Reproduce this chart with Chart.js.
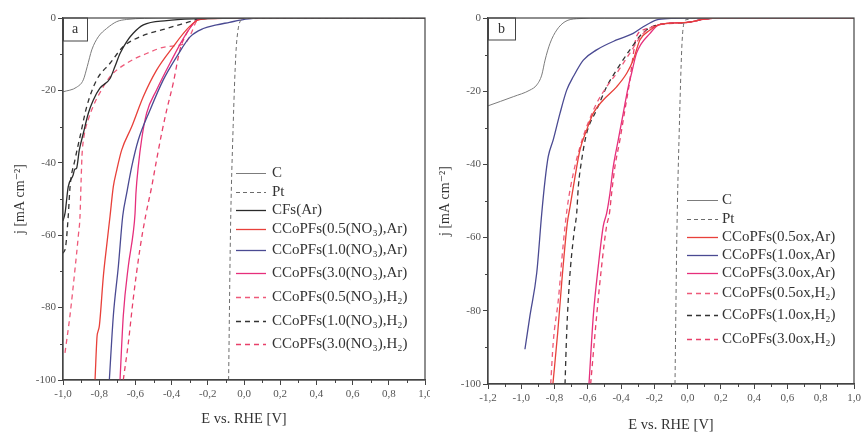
<!DOCTYPE html>
<html>
<head>
<meta charset="utf-8">
<script src="https://cdn.jsdelivr.net/npm/chart.js@4.4.0/dist/chart.umd.min.js"></script>
<style>
    body { margin: 0; background: #fff; }
    #wrapA { position: absolute; left: 0; top: 0; }
    #wrapB { position: absolute; left: 430px; top: 0; }
</style>
</head>
<body>
<div id="wrapA"><canvas id="chartA" width="430" height="432"></canvas></div>
<div id="wrapB"><canvas id="chartB" width="431" height="432"></canvas></div>
<script>
// Panel a curves, [E (V vs RHE), j (mA cm-2)]
const a_C = [[-1.0,-20.4],[-0.924,-19.1],[-0.888,-17.1],[-0.866,-13.4],[-0.841,-8.8],[-0.805,-5.2],[-0.759,-2.9],[-0.703,-1.0],[-0.648,-0.4],[-0.55,-0.1],[-0.4,0],[1.0,0]];
const a_Pt = [[-0.085,-100],[-0.075,-60],[-0.06,-30],[-0.045,-10],[-0.035,-4],[-0.02,-0.8],[0,-0.2],[0.1,0],[1.0,0]];
const a_CFs = [[-1.0,-56],[-0.989,-54],[-0.971,-46.6],[-0.945,-43.5],[-0.935,-41.8],[-0.925,-41.5],[-0.91,-36.5],[-0.888,-31.9],[-0.86,-26.3],[-0.833,-22.7],[-0.796,-19.4],[-0.74,-16.7],[-0.713,-13.4],[-0.685,-9.8],[-0.648,-6.5],[-0.612,-4.2],[-0.556,-1.9],[-0.427,-0.7],[-0.26,-0.2],[0,0],[1.0,0]];
const a_05Ar = [[-0.823,-100],[-0.812,-88],[-0.806,-86.5],[-0.799,-85],[-0.777,-71.3],[-0.759,-63],[-0.74,-54.7],[-0.722,-46.6],[-0.703,-42],[-0.676,-36.5],[-0.62,-30],[-0.556,-21.7],[-0.483,-14.4],[-0.391,-7.9],[-0.317,-3.2],[-0.26,-0.7],[-0.2,-0.2],[0,0],[1.0,0]];
const a_10Ar = [[-0.744,-100],[-0.722,-82.3],[-0.694,-68.5],[-0.67,-54.7],[-0.648,-48.4],[-0.62,-41],[-0.584,-33.7],[-0.519,-25.4],[-0.446,-17.1],[-0.372,-10.7],[-0.298,-5.2],[-0.225,-2.9],[-0.151,-1.9],[-0.08,-1.2],[-0.022,-0.6],[0.05,-0.1],[0.2,0],[1.0,0]];
const a_30Ar = [[-0.685,-100],[-0.667,-82.3],[-0.639,-68.5],[-0.612,-59.3],[-0.602,-54],[-0.597,-48.4],[-0.584,-41],[-0.566,-33.7],[-0.538,-26.3],[-0.483,-19.9],[-0.409,-12.5],[-0.317,-4.2],[-0.26,-0.6],[-0.2,-0.1],[0,0],[1.0,0]];
const a_05H2 = [[-0.989,-92.5],[-0.961,-82],[-0.935,-70],[-0.915,-60],[-0.906,-54.7],[-0.9,-45],[-0.895,-38],[-0.885,-33],[-0.86,-28],[-0.83,-24],[-0.8,-21],[-0.74,-16.2],[-0.648,-12.5],[-0.538,-9.8],[-0.427,-7.9],[-0.326,-7],[-0.29,-4],[-0.26,-0.8],[-0.2,-0.1],[0,0],[1.0,0]];
const a_10H2 = [[-1.0,-65],[-0.985,-63],[-0.971,-54.7],[-0.961,-46.6],[-0.934,-39.2],[-0.906,-32.8],[-0.869,-24.5],[-0.814,-17.1],[-0.74,-12.5],[-0.667,-7.9],[-0.575,-5.2],[-0.427,-2.9],[-0.3,-1],[-0.26,-0.4],[-0.2,-0.1],[0,0],[1.0,0]];
const a_30H2 = [[-0.667,-100],[-0.639,-89.7],[-0.612,-77.6],[-0.575,-63.8],[-0.543,-54.5],[-0.51,-46.6],[-0.483,-39.2],[-0.455,-31.9],[-0.427,-25.4],[-0.391,-18],[-0.354,-8.8],[-0.317,-4.2],[-0.28,-1.5],[-0.25,-0.3],[-0.2,-0.1],[0,0],[1.0,0]];

// Panel b curves
const b_C = [[-1.2,-24],[-1.048,-21.5],[-0.948,-19.7],[-0.907,-18.3],[-0.877,-15.6],[-0.857,-11.5],[-0.827,-6.9],[-0.787,-3.3],[-0.737,-1.0],[-0.667,-0.2],[-0.5,0],[1.0,0]];
const b_Pt = [[-0.076,-100],[-0.065,-60],[-0.05,-30],[-0.035,-8],[-0.025,-2],[-0.01,-0.5],[0.1,0],[1.0,0]];
const b_05Ar = [[-0.81,-100],[-0.781,-86],[-0.757,-72.3],[-0.723,-55.9],[-0.707,-51.6],[-0.677,-43.4],[-0.647,-36],[-0.607,-30.6],[-0.567,-26],[-0.507,-22.4],[-0.427,-18.8],[-0.366,-15.1],[-0.327,-11.5],[-0.287,-6],[-0.226,-3.3],[-0.17,-1.8],[0,-1.2],[0.1,-0.3],[0.2,0],[1.0,0]];
const b_10Ar = [[-0.978,-90.5],[-0.948,-81.4],[-0.907,-69.6],[-0.877,-53.4],[-0.857,-44.3],[-0.838,-37.9],[-0.808,-33.3],[-0.767,-26],[-0.727,-19.7],[-0.687,-16],[-0.627,-11.5],[-0.547,-8.7],[-0.427,-6],[-0.327,-4.2],[-0.267,-2.4],[-0.186,-0.5],[-0.1,-0.1],[0,0],[1.0,0]];
const b_30Ar = [[-0.593,-100],[-0.567,-81.4],[-0.537,-67.8],[-0.507,-56.8],[-0.487,-53.4],[-0.467,-47.9],[-0.447,-40.6],[-0.417,-33.3],[-0.387,-26],[-0.357,-18.8],[-0.337,-15.1],[-0.307,-9.6],[-0.226,-4.2],[-0.17,-1.8],[0,-1.2],[0.1,-0.3],[0.2,0],[1.0,0]];
const b_05H2 = [[-0.823,-100],[-0.808,-88.7],[-0.777,-76.9],[-0.747,-61.4],[-0.723,-51.6],[-0.687,-42.4],[-0.647,-35.2],[-0.607,-29.7],[-0.547,-23.3],[-0.487,-18.8],[-0.427,-15.1],[-0.347,-9.6],[-0.267,-4.2],[-0.17,-1.8],[0,-1.2],[0.1,-0.3],[0.2,0],[1.0,0]];
const b_10H2 = [[-0.737,-100],[-0.727,-86],[-0.711,-72.3],[-0.683,-58.7],[-0.667,-53.4],[-0.657,-46.1],[-0.637,-38.8],[-0.607,-31.5],[-0.547,-25.1],[-0.487,-18.8],[-0.427,-14.2],[-0.347,-8.7],[-0.267,-4],[-0.17,-1.8],[0,-1.2],[0.1,-0.3],[0.2,0],[1.0,0]];
const b_30H2 = [[-0.583,-100],[-0.547,-81.4],[-0.517,-67.8],[-0.487,-56.8],[-0.47,-53.4],[-0.457,-47.9],[-0.437,-40.6],[-0.407,-33.3],[-0.377,-25.1],[-0.347,-16.9],[-0.33,-11],[-0.307,-5],[-0.25,-3],[-0.17,-1.8],[0,-1.2],[0.1,-0.3],[0.2,0],[1.0,0]];

// Legend labels
const labelsA = ['C', 'Pt', 'CFs(Ar)', 'CCoPFs(0.5(NO₃),Ar)', 'CCoPFs(1.0(NO₃),Ar)', 'CCoPFs(3.0(NO₃),Ar)', 'CCoPFs(0.5(NO₃),H₂)', 'CCoPFs(1.0(NO₃),H₂)', 'CCoPFs(3.0(NO₃),H₂)'];
const labelsB = ['C', 'Pt', 'CCoPFs(0.5ox,Ar)', 'CCoPFs(1.0ox,Ar)', 'CCoPFs(3.0ox,Ar)', 'CCoPFs(0.5ox,H₂)', 'CCoPFs(1.0ox,H₂)', 'CCoPFs(3.0ox,H₂)'];

const SERIF = '"Liberation Serif", "DejaVu Serif", serif';
const DASH = [5, 4];

const STYLE = {
    C:    { color: '#7c7c7c', dash: [], width: 1 },
    Pt:   { color: '#6c6c6c', dash: [4, 3], width: 1 },
    CFs:  { color: '#2a2a2a', dash: [], width: 1.3 },
    r05:  { color: '#e8403a', dash: [], width: 1.3 },
    n10:  { color: '#4a4a92', dash: [], width: 1.3 },
    m30:  { color: '#e62f7c', dash: [], width: 1.3 },
    h05:  { color: '#ee5a7a', dash: DASH, width: 1.3 },
    h10:  { color: '#333333', dash: DASH, width: 1.3 },
    h30:  { color: '#e8406a', dash: DASH, width: 1.3 }
};

function makeSet(label, pairs, style) {
    return {
        label: label,
        data: pairs.map(([x, y]) => ({ x: x, y: y })),
        borderColor: style.color,
        borderDash: style.dash,
        borderWidth: style.width,
        pointRadius: 0,
        fill: false,
        cubicInterpolationMode: 'monotone'
    };
}

const fmtComma = v => Number(v).toFixed(1).replace('.', ',');

// Frame, minor ticks and panel letter
const panelDeco = {
    id: 'panelDeco',
    afterDraw(chart, args, opts) {
        const ctx = chart.ctx;
        const a = chart.chartArea;
        const xs = chart.scales.x, ys = chart.scales.y;
        ctx.save();
        ctx.strokeStyle = '#444';
        ctx.lineWidth = 1.2;
        ctx.strokeRect(a.left, a.top, a.right - a.left, a.bottom - a.top);
        // minor ticks
        ctx.lineWidth = 1;
        ctx.beginPath();
        for (let v = xs.min + 0.1; v < xs.max; v += 0.2) {
            const px = Math.round(xs.getPixelForValue(v)) + 0.5;
            ctx.moveTo(px, a.bottom);
            ctx.lineTo(px, a.bottom + 3);
        }
        for (let v = -10; v > -100; v -= 20) {
            const py = Math.round(ys.getPixelForValue(v)) + 0.5;
            ctx.moveTo(a.left, py);
            ctx.lineTo(a.left - 3, py);
        }
        ctx.stroke();
        // letter box
        ctx.strokeRect(a.left + 0.5, a.top, opts.boxW, opts.boxH);
        ctx.fillStyle = '#333';
        ctx.font = '14px ' + SERIF;
        ctx.textAlign = 'center';
        ctx.textBaseline = 'middle';
        ctx.fillText(opts.letter, a.left + opts.boxW / 2, a.top + opts.boxH / 2);
        ctx.restore();
    }
};

// Legend drawn inside the plot area
const sketchLegend = {
    id: 'sketchLegend',
    afterDraw(chart, args, opts) {
        const ctx = chart.ctx;
        ctx.save();
        ctx.font = '15px ' + SERIF;
        ctx.textAlign = 'left';
        ctx.textBaseline = 'middle';
        chart.data.datasets.forEach((ds, i) => {
            const y = opts.rows[i];
            ctx.strokeStyle = ds.borderColor;
            ctx.lineWidth = ds.borderWidth;
            ctx.setLineDash(ds.borderDash);
            ctx.beginPath();
            ctx.moveTo(opts.x0, y + 0.5);
            ctx.lineTo(opts.x1, y + 0.5);
            ctx.stroke();
            ctx.setLineDash([]);
            ctx.fillStyle = '#333';
            ctx.fillText(ds.label, opts.textX, y);
        });
        ctx.restore();
    }
};

function buildOptions(cfg) {
    return {
        responsive: false,
        animation: false,
        events: [],
        layout: { padding: { left: 0, right: cfg.padRight, top: 18, bottom: 0 } },
        plugins: {
            legend: { display: false },
            tooltip: { enabled: false },
            panelDeco: cfg.deco,
            sketchLegend: cfg.legend
        },
        scales: {
            x: {
                type: 'linear',
                min: cfg.xMin,
                max: 1.0,
                afterFit(s) { s.height = cfg.xHeight; s.paddingLeft = 0; s.paddingRight = 0; },
                ticks: {
                    stepSize: 0.2,
                    autoSkip: false,
                    maxRotation: 0,
                    padding: 3,
                    color: '#555',
                    font: { family: SERIF, size: 11 },
                    callback: fmtComma
                },
                grid: { drawOnChartArea: false, tickLength: 5, color: '#444' },
                border: { color: '#444', width: 1.2 },
                title: {
                    display: true,
                    text: 'E vs. RHE [V]',
                    color: '#333',
                    font: { family: SERIF, size: 14.5, lineHeight: 1 },
                    padding: { top: 0, bottom: cfg.xTitlePad }
                }
            },
            y: {
                min: -100,
                max: 0,
                afterFit(s) { s.width = cfg.yWidth; },
                ticks: {
                    stepSize: 20,
                    padding: 2,
                    color: '#555',
                    font: { family: SERIF, size: 11 },
                    callback: v => String(v)
                },
                grid: { drawOnChartArea: false, tickLength: 5, color: '#444' },
                border: { color: '#444', width: 1.2 },
                title: {
                    display: true,
                    text: 'j [mA cm⁻²]',
                    color: '#333',
                    font: { family: SERIF, size: 14, lineHeight: 1.2 },
                    padding: { top: cfg.yTitlePad, bottom: 0 }
                }
            }
        }
    };
}

new Chart(document.getElementById('chartA').getContext('2d'), {
    type: 'line',
    data: {
        datasets: [
            makeSet(labelsA[0], a_C, STYLE.C),
            makeSet(labelsA[1], a_Pt, STYLE.Pt),
            makeSet(labelsA[2], a_CFs, STYLE.CFs),
            makeSet(labelsA[3], a_05Ar, STYLE.r05),
            makeSet(labelsA[4], a_10Ar, STYLE.n10),
            makeSet(labelsA[5], a_30Ar, STYLE.m30),
            makeSet(labelsA[6], a_05H2, STYLE.h05),
            makeSet(labelsA[7], a_10H2, STYLE.h10),
            makeSet(labelsA[8], a_30H2, STYLE.h30)
        ]
    },
    options: buildOptions({
        xMin: -1.0, padRight: 5, xHeight: 52, yWidth: 63, xTitlePad: 6, yTitlePad: 12,
        deco: { letter: 'a', boxW: 24, boxH: 23 },
        legend: { x0: 236, x1: 266, textX: 272, rows: [173, 192, 210, 229, 250, 273, 297, 321, 344] }
    }),
    plugins: [panelDeco, sketchLegend]
});

new Chart(document.getElementById('chartB').getContext('2d'), {
    type: 'line',
    data: {
        datasets: [
            makeSet(labelsB[0], b_C, STYLE.C),
            makeSet(labelsB[1], b_Pt, STYLE.Pt),
            makeSet(labelsB[2], b_05Ar, STYLE.r05),
            makeSet(labelsB[3], b_10Ar, STYLE.n10),
            makeSet(labelsB[4], b_30Ar, STYLE.m30),
            makeSet(labelsB[5], b_05H2, STYLE.h05),
            makeSet(labelsB[6], b_10H2, STYLE.h10),
            makeSet(labelsB[7], b_30H2, STYLE.h30)
        ]
    },
    options: buildOptions({
        xMin: -1.2, padRight: 7, xHeight: 48, yWidth: 58, xTitlePad: 0, yTitlePad: 7,
        deco: { letter: 'b', boxW: 27, boxH: 22 },
        legend: { x0: 257, x1: 288, textX: 292, rows: [200, 219, 237, 255, 273, 293, 315, 339] }
    }),
    plugins: [panelDeco, sketchLegend]
});
</script>
</body>
</html>
